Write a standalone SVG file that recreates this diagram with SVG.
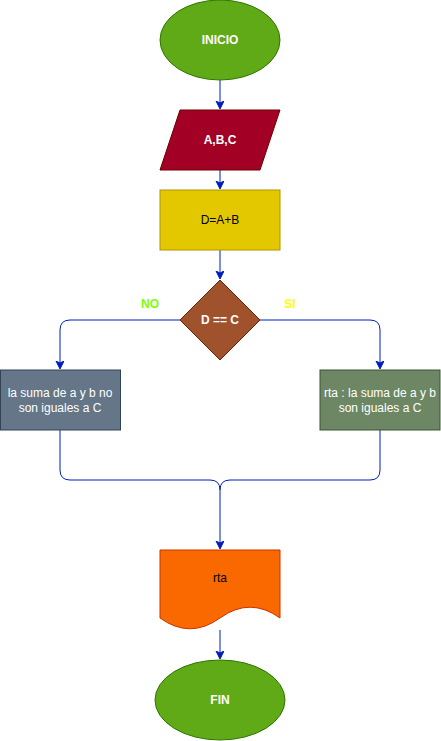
<svg xmlns="http://www.w3.org/2000/svg" width="441" height="741" viewBox="0 0 441 741">
<style>
text{font-family:"Liberation Sans",Arial,sans-serif;font-size:12px;text-anchor:middle}
.w{fill:#ffffff;font-weight:bold}
.r{fill:#ffffff}
.k{fill:#000000}
.e{fill:none;stroke:#001DBC;stroke-width:1}
</style>
<defs>
<marker id="ar" markerUnits="userSpaceOnUse" markerWidth="10" markerHeight="10" refX="7" refY="4" orient="auto">
<path d="M0,0 L8,4 L0,8 L2,4 Z" fill="#001DBC" stroke="#001DBC" stroke-width="1"/>
</marker>
</defs>
<g id="connectors">
<path class="e" d="M220,80 V108" marker-end="url(#ar)"/>
<path class="e" d="M220,170 V188" marker-end="url(#ar)"/>
<path class="e" d="M220,250 V278" marker-end="url(#ar)"/>
<path class="e" d="M180,320 H70 Q60,320 60,330 V368" marker-end="url(#ar)"/>
<path class="e" d="M260,320 H370 Q380,320 380,330 V368" marker-end="url(#ar)"/>
<path class="e" d="M60,430 V470 Q60,480 70,480 H210 Q220,480 220,490 V548" marker-end="url(#ar)"/>
<path class="e" d="M380,430 V470 Q380,480 370,480 H230 Q220,480 220,490"/>
<path class="e" d="M220,630 V658" marker-end="url(#ar)"/>
</g>
<g id="inicio">
<ellipse cx="220" cy="40" rx="60" ry="40" fill="#60a917" stroke="#2d7600"/>
<text class="w" x="220" y="44">INICIO</text>
</g>
<g id="entrada">
<polygon points="180,110 280,110 260,170 160,170" fill="#a20025" stroke="#6f0000"/>
<text class="w" x="220" y="144">A,B,C</text>
</g>
<g id="proceso">
<rect x="160" y="190" width="120" height="60" fill="#e3c800" stroke="#b09500"/>
<text class="k" x="220" y="224">D=A+B</text>
</g>
<g id="decision">
<polygon points="220,280 260,320 220,360 180,320" fill="#a0522d" stroke="#6d1f00"/>
<text class="w" x="220" y="324">D == C</text>
</g>
<g id="label-no">
<text x="150" y="308" style="fill:#80ff00;font-weight:bold">NO</text>
</g>
<g id="label-si">
<text x="290" y="308" style="fill:#ffff00;font-weight:bold">SI</text>
</g>
<g id="no-iguales">
<rect x="0.5" y="370" width="120" height="60" fill="#647687" stroke="#314354"/>
<text class="r" x="60" y="397">la suma de a y b no</text>
<text class="r" x="60" y="412">son iguales a C</text>
</g>
<g id="iguales">
<rect x="320" y="370" width="120" height="60" fill="#6d8764" stroke="#3a5431"/>
<text class="r" x="380" y="397">rta : la suma de a y b</text>
<text class="r" x="380" y="412">son iguales a C</text>
</g>
<g id="salida">
<path d="M160,550 H280 V618 Q250,596.4 220,618 Q190,639.6 160,618 Z" fill="#fa6800" stroke="#c73500"/>
<text class="k" x="220" y="582">rta</text>
</g>
<g id="fin">
<ellipse cx="220" cy="700" rx="65" ry="40" fill="#60a917" stroke="#2d7600"/>
<text class="w" x="220" y="704">FIN</text>
</g>
</svg>
